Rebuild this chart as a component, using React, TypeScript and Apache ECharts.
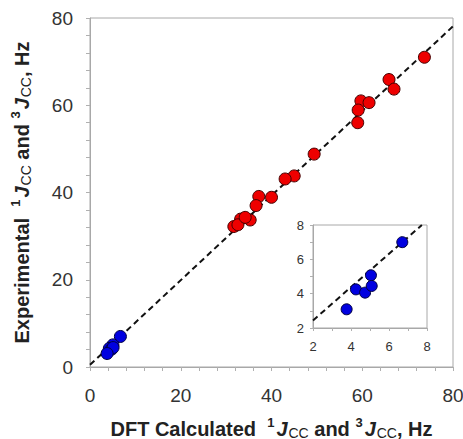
import React, { useEffect, useRef } from "react";
import * as echarts from "echarts";

// Main data (DFT calculated, experimental), Hz
const redCalc = [73.7, 65.9, 67.0, 59.7, 61.5, 59.1, 59.0, 49.4, 45.0, 43.0, 40.0, 37.2, 36.6, 33.2, 35.3, 31.7, 32.6, 34.2];
const redExp = [71.0, 65.9, 63.7, 61.0, 60.6, 58.9, 56.0, 48.8, 43.8, 43.1, 38.9, 39.1, 37.0, 33.9, 33.7, 32.2, 32.6, 34.3];
const blueCalc = [6.7, 5.05, 4.26, 4.74, 5.09, 3.77];
const blueExp = [7.0, 5.07, 4.25, 4.06, 4.45, 3.09];
const fitX = [0, 80];
const fitY = [0.5, 78.1];
const insetFitX = [2, 7.73];
const insetFitY = [2.44, 8];
const mainTickLabels = [0, 20, 40, 60, 80];
const insetTickLabels = [2, 4, 6, 8];

const FONT = "Liberation Sans, Arial, Helvetica, sans-serif";
const zip = (a: number[], b: number[]) => a.map((v, i) => [v, b[i]]);

const rich = {
  b: { fontSize: 20, fontWeight: "bold", color: "#222", fontFamily: FONT },
  j: { fontSize: 20, fontWeight: "bold", fontStyle: "italic", color: "#222", fontFamily: FONT },
  sup: { fontSize: 13, fontWeight: "bold", color: "#222", fontFamily: FONT, padding: [0, 2, 12, 0] },
  sub: { fontSize: 14, fontWeight: "normal", color: "#222", fontFamily: FONT, padding: [8, 0, 0, 1] },
};

export default function App() {
  const ref = useRef<HTMLDivElement>(null);
  useEffect(() => {
    const chart = echarts.init(ref.current!, null, { renderer: "svg" });
    const axisCommon = {
      type: "value",
      axisLine: { show: true, lineStyle: { color: "#a8a8a8", width: 1 } },
      axisTick: { show: true, inside: false, length: 4, lineStyle: { color: "#b0b0b0" } },
      splitLine: { show: false },
    };
    chart.setOption({
      animation: false,
      backgroundColor: "#fff",
      grid: [
        { left: 90, top: 18, width: 363, height: 349, show: true, borderColor: "#a8a8a8", borderWidth: 1, containLabel: false, outerBoundsMode: "none" },
        { left: 313, top: 225, width: 114, height: 103, show: true, borderColor: "#a8a8a8", borderWidth: 1, containLabel: false, outerBoundsMode: "none" },
      ],
      xAxis: [
        {
          ...axisCommon,
          gridIndex: 0,
          min: 0,
          max: 80,
          interval: 4,
          axisLabel: {
            fontSize: 19,
            color: "#333",
            fontFamily: FONT,
            margin: 19,
            formatter: (v: number) => (mainTickLabels.includes(v) ? String(v) : ""),
          },
          name: "{b|DFT Calculated  }{sup|1}{j|J}{sub|CC}{b| and }{sup|3}{j|J}{sub|CC}{b|, Hz}",
          nameLocation: "middle",
          nameGap: 49,
          nameTextStyle: { rich },
        },
        {
          ...axisCommon,
          gridIndex: 1,
          min: 2,
          max: 8,
          interval: 1,
          axisTick: { show: true, length: 3, lineStyle: { color: "#b0b0b0" } },
          axisLabel: {
            fontSize: 13,
            color: "#333",
            fontFamily: FONT,
            margin: 12,
            formatter: (v: number) => (insetTickLabels.includes(v) ? String(v) : ""),
          },
        },
      ],
      yAxis: [
        {
          ...axisCommon,
          gridIndex: 0,
          min: 0,
          max: 80,
          interval: 4,
          axisLabel: {
            fontSize: 19,
            color: "#333",
            fontFamily: FONT,
            margin: 17,
            formatter: (v: number) => (mainTickLabels.includes(v) ? String(v) : ""),
          },
          name: "{b|Experimental  }{sup|1}{j|J}{sub|CC}{b| and }{sup|3}{j|J}{sub|CC}{b|, Hz}",
          nameLocation: "middle",
          nameGap: 56,
          nameTextStyle: { rich },
        },
        {
          ...axisCommon,
          gridIndex: 1,
          min: 2,
          max: 8,
          interval: 1,
          axisTick: { show: true, length: 3, lineStyle: { color: "#b0b0b0" } },
          axisLabel: {
            fontSize: 13,
            color: "#333",
            fontFamily: FONT,
            margin: 9,
            formatter: (v: number) => (insetTickLabels.includes(v) ? String(v) : ""),
          },
        },
      ],
      series: [
        {
          type: "line",
          xAxisIndex: 0,
          yAxisIndex: 0,
          data: zip(fitX, fitY),
          symbol: "none",
          lineStyle: { color: "#111", width: 2, type: [6, 4] },
          z: 1,
        },
        {
          type: "scatter",
          xAxisIndex: 0,
          yAxisIndex: 0,
          data: zip(redCalc, redExp),
          symbolSize: 12,
          itemStyle: { color: "#ee0000", borderColor: "#400", borderWidth: 1, opacity: 1 },
          z: 3,
        },
        {
          type: "scatter",
          xAxisIndex: 0,
          yAxisIndex: 0,
          data: zip(blueCalc, blueExp),
          symbolSize: 12,
          itemStyle: { color: "#0000e0", borderColor: "#000040", borderWidth: 1, opacity: 1 },
          z: 3,
        },
        {
          type: "line",
          xAxisIndex: 1,
          yAxisIndex: 1,
          data: zip(insetFitX, insetFitY),
          symbol: "none",
          lineStyle: { color: "#111", width: 2, type: [6, 4] },
          z: 1,
        },
        {
          type: "scatter",
          xAxisIndex: 1,
          yAxisIndex: 1,
          data: zip(blueCalc, blueExp),
          symbolSize: 11,
          itemStyle: { color: "#0000e0", borderColor: "#000040", borderWidth: 1, opacity: 1 },
          z: 3,
        },
      ],
    });
    return () => chart.dispose();
  }, []);
  return (
    <div
      ref={ref}
      style={{ position: "fixed", left: 0, top: 0, width: 463, height: 439, background: "#fff" }}
    />
  );
}
